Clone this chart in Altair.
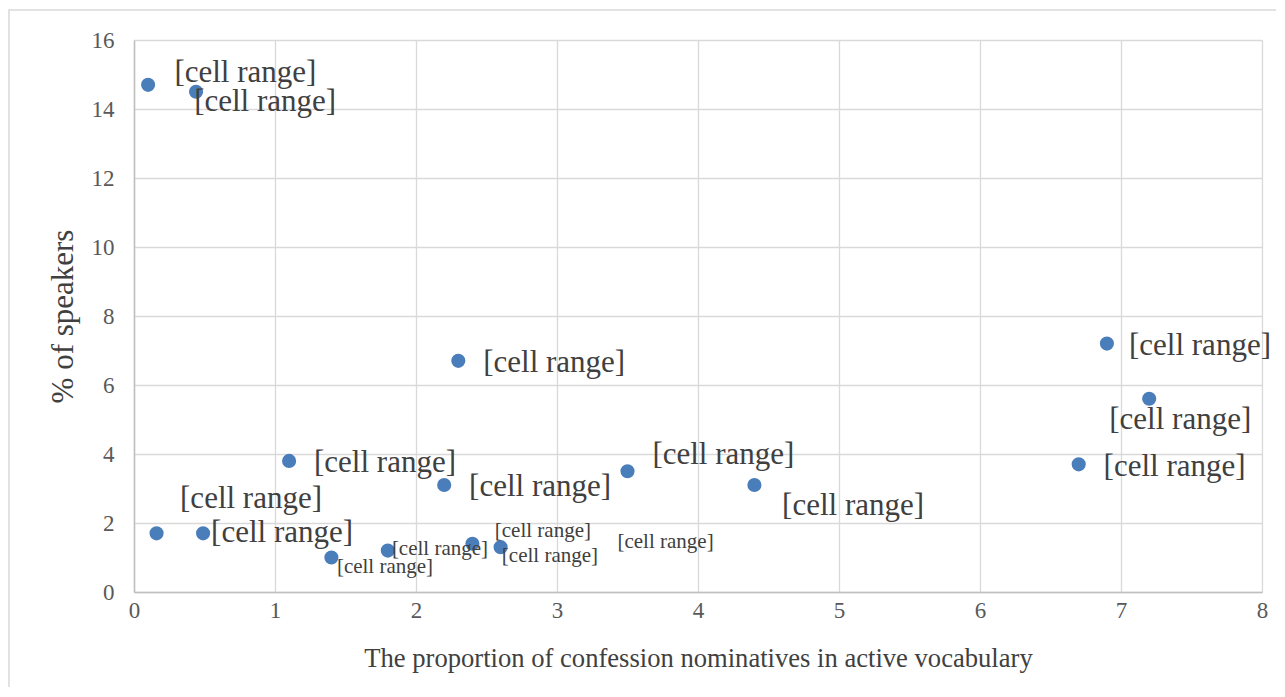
import altair as alt
import pandas as pd

# Data points
x_vals = [0.1, 0.44, 0.16, 0.49, 1.1, 1.4, 1.8, 2.2, 2.3, 2.4, 2.6, 3.5, 4.4, 6.7, 6.9, 7.2]
y_vals = [14.7, 14.5, 1.7, 1.7, 3.8, 1.0, 1.2, 3.1, 6.7, 1.4, 1.3, 3.5, 3.1, 3.7, 7.2, 5.6]

# Data-label anchors (in data units), large and small labels
label_text = "[cell range]"
big_lab_x = [0.79, 0.93, 0.83, 1.05, 1.78, 2.88, 2.98, 4.18, 5.10, 7.38, 7.56, 7.42]
big_lab_y = [15.04, 14.20, 2.70, 1.71, 3.74, 3.04, 6.64, 3.97, 2.49, 3.62, 7.13, 4.99]
small_lab_x = [1.78, 2.17, 2.90, 2.95, 3.77]
small_lab_y = [0.72, 1.25, 1.77, 1.04, 1.45]

x_ticks = [0, 1, 2, 3, 4, 5, 6, 7, 8]
y_ticks = [0, 2, 4, 6, 8, 10, 12, 14, 16]

FONT = "Liberation Serif"

pts = pd.DataFrame({"x": x_vals, "y": y_vals})
big = pd.DataFrame({"x": big_lab_x, "y": big_lab_y, "t": [label_text] * len(big_lab_x)})
small = pd.DataFrame({"x": small_lab_x, "y": small_lab_y, "t": [label_text] * len(small_lab_x)})

xscale = alt.Scale(domain=[0, 8], nice=False, zero=True)
yscale = alt.Scale(domain=[0, 16], nice=False, zero=True)

xaxis = alt.Axis(
    title="The proportion of confession nominatives in active vocabulary",
    values=x_ticks, format="d", grid=True, gridColor="#d9d9d9", gridWidth=1.3,
    domainColor="#bfbfbf", domainWidth=1.5, ticks=False, labelFlush=False,
    labelFont=FONT, labelFontSize=23, labelColor="#595959", labelPadding=7,
    titleFont=FONT, titleFontSize=26.6, titleFontWeight="normal", titleColor="#404040",
    titleY=66, titleBaseline="middle",
)
yaxis = alt.Axis(
    title="% of speakers",
    values=y_ticks, format="d", grid=True, gridColor="#d9d9d9", gridWidth=1.3,
    domainColor="#bfbfbf", domainWidth=1.5, ticks=False, labelFlush=False,
    labelFont=FONT, labelFontSize=23, labelColor="#595959", labelPadding=20,
    titleFont=FONT, titleFontSize=31, titleFontWeight="normal", titleColor="#404040",
    titleX=-71, titleBaseline="middle",
)

border = alt.Chart(pd.DataFrame({"a": [0]})).mark_rect(
    fill=None, stroke="#d9d9d9", strokeWidth=1.5
).encode(
    x=alt.value(-125), x2=alt.value(1200), y=alt.value(-30), y2=alt.value(700)
)

points = alt.Chart(pts).mark_circle(size=200, color="#4a7ebb", opacity=1).encode(
    x=alt.X("x:Q", scale=xscale, axis=xaxis),
    y=alt.Y("y:Q", scale=yscale, axis=yaxis),
)

big_labels = alt.Chart(big).mark_text(
    font=FONT, fontSize=31, color="#404040", align="center", baseline="middle"
).encode(
    x=alt.X("x:Q", scale=xscale, axis=xaxis),
    y=alt.Y("y:Q", scale=yscale, axis=yaxis),
    text="t:N",
)

small_labels = alt.Chart(small).mark_text(
    font=FONT, fontSize=21, color="#404040", align="center", baseline="middle"
).encode(
    x=alt.X("x:Q", scale=xscale, axis=xaxis),
    y=alt.Y("y:Q", scale=yscale, axis=yaxis),
    text="t:N",
)

chart = alt.layer(border, points, big_labels, small_labels).properties(
    width=1128, height=552,
    background="white",
    autosize=alt.AutoSizeParams(type="none"),
    padding={"left": 126, "top": 32, "right": 14, "bottom": 95},
).configure(font=FONT).configure_axis(
    labelFont=FONT, titleFont=FONT
).configure_view(stroke=None)

chart.save("out.html", embed_options={"renderer": "svg", "actions": False})
